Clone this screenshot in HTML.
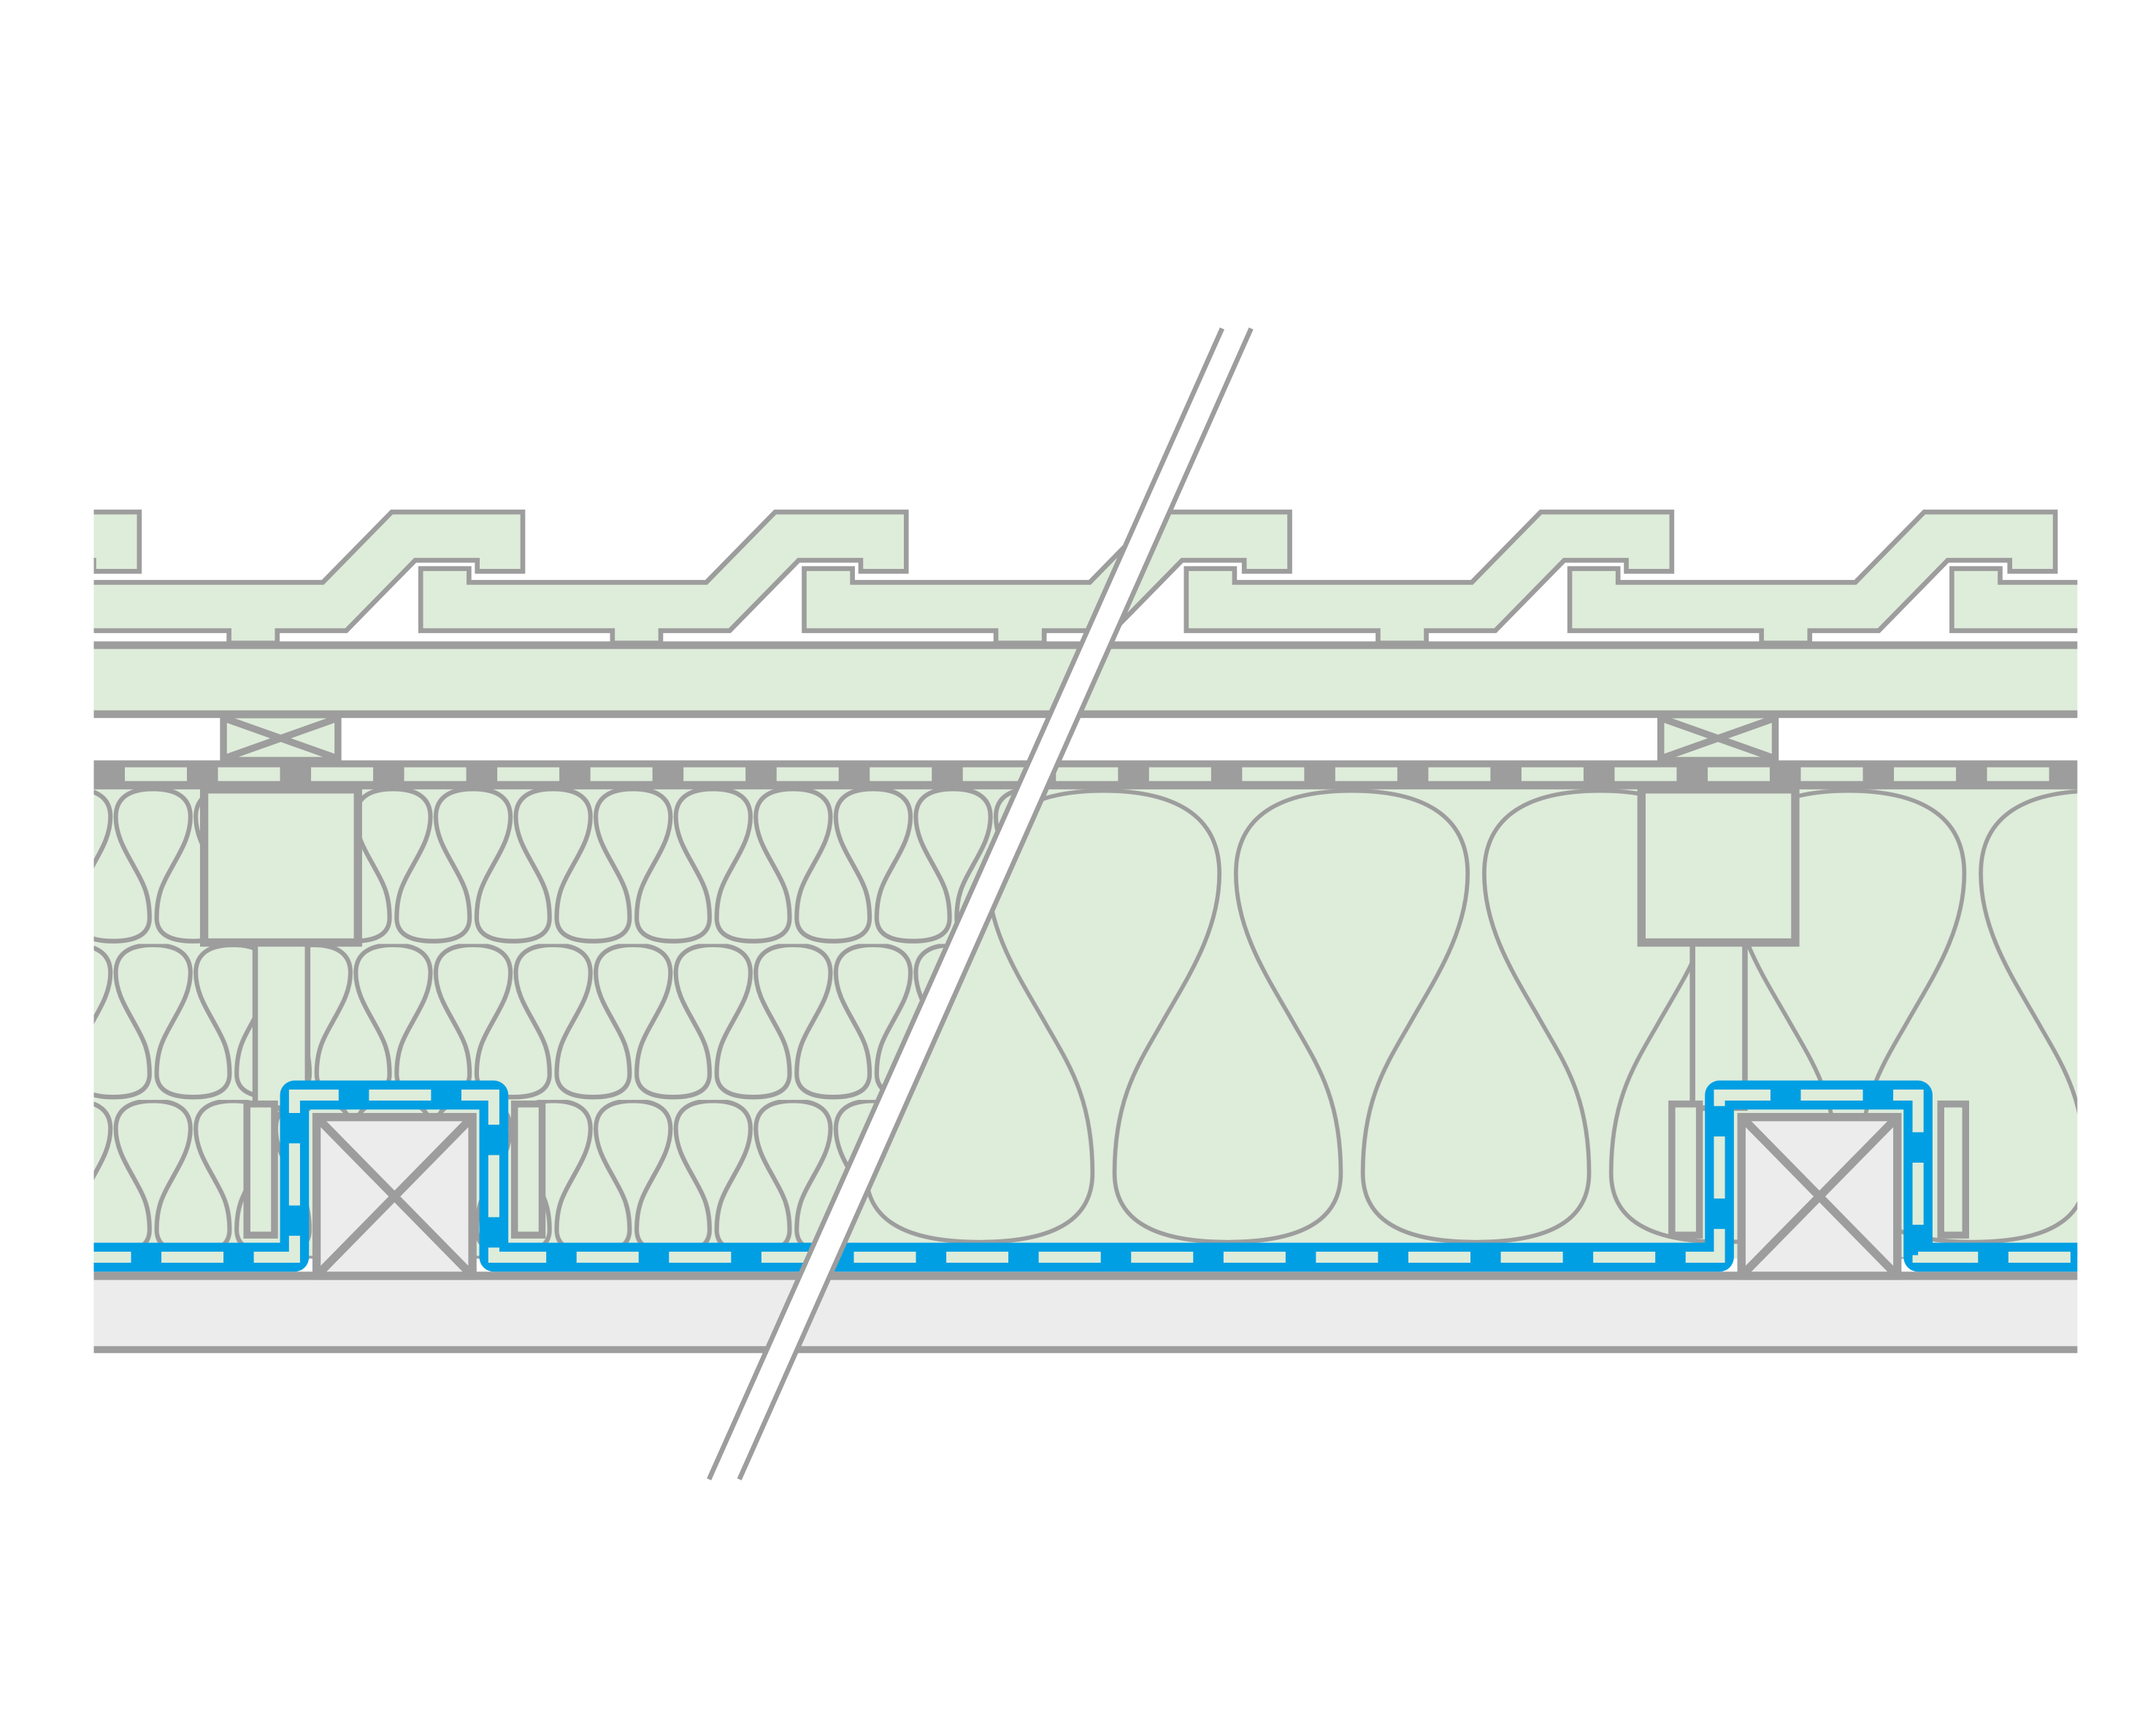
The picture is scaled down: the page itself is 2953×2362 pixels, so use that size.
<!DOCTYPE html>
<html><head><meta charset="utf-8"><style>html,body{margin:0;padding:0;background:#fff}svg{display:block}</style></head>
<body>
<svg width="2953" height="2362" viewBox="0 0 1563 1250" preserveAspectRatio="none" xmlns="http://www.w3.org/2000/svg">
<defs>
<clipPath id="c"><rect x="68" y="0" width="1438" height="1250"/></clipPath>
<path id="tile" d="M0,412 H35 V422 H207 L257,371 H352 V414 H319 V406 H274 L224,457 H174 V466 H139 V457 H0 Z" fill="#deecda" stroke="#9d9d9d" stroke-width="3.5"/>
<path id="serp" d="M0,329 C60,329 82,309 82,279 C82,224 64,199 47,169 C30,139 6,104 6,62 C6,19 40,2 90,2 C140,2 174,19 174,62 C174,104 150,139 133,169 C116,199 98,224 98,279 C98,309 120,329 180,329" fill="none" stroke="#9d9d9d"/>
<pattern id="big" patternUnits="userSpaceOnUse" x="890" y="571" width="180" height="335">
<rect width="180" height="335" fill="#deecda"/>
<use href="#serp" stroke-width="3"/>
</pattern>
<pattern id="small" patternUnits="userSpaceOnUse" x="82" y="571" width="58" height="113">
<rect width="58" height="113" fill="#deecda"/>
<g transform="scale(0.3222,0.3373)"><use href="#serp" stroke-width="10"/></g>
</pattern>
</defs>
<g clip-path="url(#c)">
<use href="#tile" x="-251"/><use href="#tile" x="27"/><use href="#tile" x="305"/><use href="#tile" x="583"/><use href="#tile" x="860"/><use href="#tile" x="1138"/><use href="#tile" x="1415"/>
<rect x="60" y="468" width="1460" height="50" fill="#deecda"/>
<line x1="60" y1="467.5" x2="1520" y2="467.5" stroke="#9d9d9d" stroke-width="5.5"/>
<line x1="60" y1="517.5" x2="1520" y2="517.5" stroke="#9d9d9d" stroke-width="5.5"/>
<polygon points="68,571 748,571 599,912 68,912" fill="url(#small)"/>
<polygon points="748,571 1510,571 1510,912 599,912" fill="url(#big)"/>
<rect x="60" y="551" width="1460" height="21" fill="#9d9d9d"/>
<line x1="23" y1="561" x2="1520" y2="561" stroke="#deecda" stroke-width="10" stroke-dasharray="45 22.5"/>
<g fill="#deecda" stroke="#9d9d9d" stroke-width="5">
<rect x="162" y="518" width="83" height="33"/>
<line x1="164" y1="521" x2="243" y2="549"/><line x1="243" y1="521" x2="164" y2="549"/>
<rect x="1204" y="518" width="83" height="33"/>
<line x1="1206" y1="521" x2="1285" y2="549"/><line x1="1285" y1="521" x2="1206" y2="549"/>
</g>
<g fill="#deecda" stroke="#9d9d9d">
<rect x="185" y="683" width="38" height="120" stroke-width="4"/>
<rect x="1227" y="683" width="38" height="120" stroke-width="4"/>
<rect x="148" y="572" width="111.5" height="111" stroke-width="6"/>
<rect x="1190" y="572" width="111.5" height="111" stroke-width="6"/>
</g>
<rect x="60" y="924" width="1460" height="54" fill="#ececec"/>
<line x1="60" y1="924.5" x2="1520" y2="924.5" stroke="#9d9d9d" stroke-width="6"/>
<line x1="60" y1="978" x2="1520" y2="978" stroke="#9d9d9d" stroke-width="5"/>
<g fill="#deecda" stroke="#9d9d9d" stroke-width="5">
<rect x="179" y="800" width="20" height="95"/>
<rect x="373" y="800" width="20" height="95"/>
<rect x="1212" y="800" width="20" height="95"/>
<rect x="1407" y="800" width="18" height="95"/>
</g>
<path d="M60,911 H213.5 V793.5 H358 V911 H1246.5 V793.5 H1390.5 V911 H1520" fill="none" stroke="#009fe3" stroke-width="21" stroke-linejoin="round"/>
<path d="M60,911 H213.5 V793.5 H358 V911 H1246.5 V793.5 H1390.5 V911 H1520" fill="none" stroke="#deecda" stroke-width="8" stroke-dasharray="45 22" stroke-dashoffset="10"/>
<g fill="#ececec" stroke="#9d9d9d" stroke-width="6">
<rect x="229.5" y="809.5" width="113" height="115"/>
<line x1="231" y1="811" x2="341" y2="923"/><line x1="341" y1="811" x2="231" y2="923"/>
<rect x="1262.5" y="809.5" width="113" height="115"/>
<line x1="1264" y1="811" x2="1374" y2="923"/><line x1="1374" y1="811" x2="1264" y2="923"/>
</g>
</g>
<polygon points="886,238 907,238 536,1072 514,1072" fill="#fff"/>
<line x1="886" y1="238" x2="514" y2="1072" stroke="#9d9d9d" stroke-width="3.5"/>
<line x1="907" y1="238" x2="536" y2="1072" stroke="#9d9d9d" stroke-width="3.5"/>
</svg>
</body></html>
